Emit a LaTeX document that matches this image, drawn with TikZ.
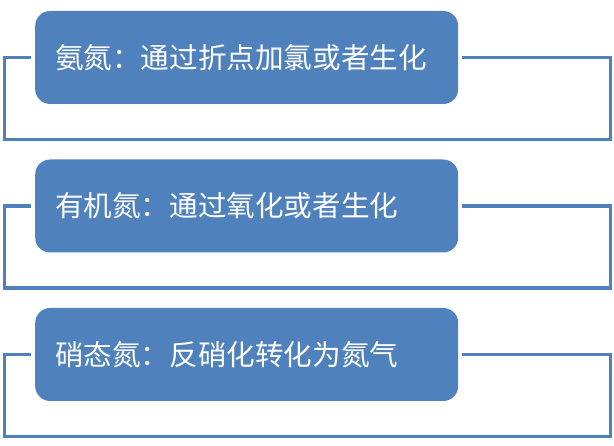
\documentclass[tikz,border=0pt]{standalone}
\usepackage{fontspec}
\newfontfamily\cjk{Noto Sans CJK SC}
\usepackage{tikz}
\usetikzlibrary{positioning}
\definecolor{boxblue}{HTML}{4F81BD}
\tikzset{item/.style = {fill=boxblue, rounded corners=15pt, text=white, font=\cjk\fontsize{28.6}{34}\selectfont, text width=383pt, align=left, inner xsep=20pt, inner ysep=0pt, minimum height=93pt, anchor=west}}
\tikzset{frame/.style = {draw=boxblue, line width=3.8pt}}

\begin{document}
\begin{tikzpicture}[x=1pt,y=-1pt]
\useasboundingbox (0,0) rectangle (614,446);

\foreach \y/\name/\txt in {57.5/ammonia/{氨氮：通过折点加氯或者生化},
                          206/organic/{有机氮：通过氧化或者生化},
                          354.5/nitrate/{硝态氮：反硝化转化为氮气}}
{
\node[item] (\name) at (35,\y) {\txt};
\draw[frame] ([xshift=-4pt]\name.west) -- (4.5,\y) -- (4.5,\y+82) -- (610.5,\y+82) -- (610.5,\y) -- ([xshift=4pt]\name.east);
}
\end{tikzpicture}
\end{document}
